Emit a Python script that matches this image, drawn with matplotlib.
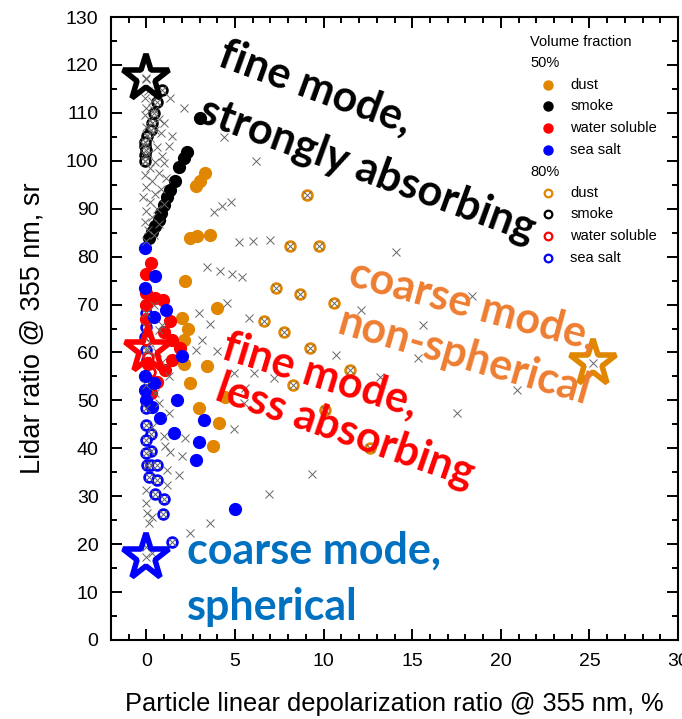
import matplotlib.pyplot as plt
from matplotlib.ticker import MultipleLocator

# lidar ratio vs particle depolarization for aerosol mixtures (355 nm)

# 50 % volume fraction (filled)
dust50_x = [3.33, 3.05, 2.77, 2.48, 2.86, 3.61, 2.20, 3.99, 2.01, 2.33, 2.10, 2.10, 3.42, 2.48, 4.46, 2.95, 4.08, 3.76]
dust50_y = [97.4, 95.7, 94.7, 83.9, 84.2, 84.6, 74.9, 69.2, 67.2, 64.9, 62.6, 57.6, 57.2, 53.7, 50.7, 48.4, 45.2, 40.4]

smoke50_x = [3.05, 2.30, 2.11, 1.82, 1.64, 1.35, 1.17, 0.98, 0.84, 0.70, 0.51, 0.32, 0.13]
smoke50_y = [108.9, 101.9, 100.6, 98.8, 95.7, 93.9, 92.5, 90.8, 89.2, 87.7, 86.3, 85.2, 83.9]

water50_x = [0.23, 0.00, -0.05, 0.51, 0.95, 0.00, 1.35, 0.00, 1.00, 1.45, 1.90, 1.45, 1.05, 0.60, 0.25, 0.10]
water50_y = [78.6, 76.4, 72.4, 71.3, 71.0, 69.8, 66.5, 67.0, 64.2, 62.6, 60.9, 58.5, 56.4, 53.9, 51.5, 57.5]

seasalt50_x = [-0.06, 0.51, -0.06, 1.13, 0.41, 2.01, -0.06, 0.41, -0.06, 0.00, 0.32, 1.73, 0.79, 3.23, 1.54, 2.95, 2.77, 5.02]
seasalt50_y = [81.8, 76.0, 73.4, 68.8, 67.3, 59.2, 55.0, 53.6, 52.2, 50.1, 48.7, 50.1, 46.3, 45.9, 43.1, 41.4, 37.6, 27.3]

# 80 % volume fraction (open)
dust80_x = [9.07, 8.09, 9.73, 7.34, 8.65, 10.57, 6.62, 7.75, 9.22, 11.51, 8.28, 10.06, 12.60]
dust80_y = [92.8, 82.3, 82.3, 73.4, 72.2, 70.4, 66.5, 64.2, 60.9, 56.4, 53.2, 48.0, 40.0]

smoke80_x = [0.89, 0.60, 0.45, 0.32, 0.23, 0.04, -0.06, -0.10, -0.10, -0.06, 0.00]
smoke80_y = [114.8, 112.2, 110.0, 107.9, 106.5, 105.1, 103.0, 101.3, 99.9, 104.0, 102.2]

water80_x = [0.00, 0.10, 0.20]
water80_y = [62.5, 59.0, 56.0]

seasalt80_x = [0.00, 0.00, -0.10, 0.00, 0.05, 0.00, 0.00, 0.28, 0.00, 0.23, 0.00, 0.04, 0.28, 0.60, 0.17, 0.60, 0.51, 0.98, 0.92, 1.45]
seasalt80_y = [68.2, 65.3, 63.3, 60.5, 58.5, 48.4, 44.9, 43.0, 41.8, 39.5, 39.0, 36.5, 36.5, 36.5, 34.0, 33.4, 30.5, 29.4, 26.2, 20.4]

# other mixing states
other_x = [0.0, 0.1, -0.1, 0.3, 0.0, 0.4, -0.1, 0.2, 0.7, 1.0, 0.0, 0.5, 1.45, 0.8, 0.2, -0.2, 1.25, 0.6,
           0.1, 0.9, -0.1, 0.5, 1.0, 0.2, 0.7, -0.1, 1.1, 0.3, 0.0, 0.8, 0.5, -0.2, 0.2, 1.0, 0.6, 0.0,
           0.3, -0.1, 0.7, 0.1, 0.4, 0.0,
           0.41, 0.89, 0.70, 1.26, 0.00, 0.51, 0.70, 1.26, 0.30, 1.00, 0.20, 0.60, 0.90,
           1.35, 2.14, 4.36, 6.19, 3.80, 4.27, 4.80, 5.25, 6.00, 7.00, 3.39, 4.14, 4.84, 5.40,
           4.55, 2.95, 5.77, 3.61, 3.14, 3.99, 2.77, 4.93, 6.06, 7.18, 5.59, 5.49, 4.97, 2.20,
           1.07, 1.35, 2.01, 1.82, 1.17, 1.17, 0.00, 0.00, 0.04, 0.32, 0.13, 0.00, 0.32, 2.48,
           3.61, 6.90, 9.35, 14.10, 18.40, 12.10, 15.60, 10.70, 15.30, 13.20, 20.90, 17.50,
           25.20, 0.00, 0.10, 0.00]
other_y = [117.0, 114.5, 113.0, 112.5, 111.0, 110.5, 109.5, 108.5, 108.7, 107.9, 107.0, 106.5, 105.1, 105.8,
           104.8, 103.5, 103.0, 102.8, 101.5, 101.0, 100.0, 99.8, 99.5, 98.5, 97.5, 97.0, 96.5, 95.8,
           94.5, 94.2, 93.0, 92.5, 91.5, 91.0, 90.0, 89.5, 88.3, 87.2, 86.8, 85.5, 84.5, 83.3,
           69.9, 65.8, 64.7, 55.0, 53.2, 51.5, 49.5, 47.3, 44.5, 42.5, 62.0, 60.0, 58.0,
           113.1, 111.0, 104.9, 99.9, 89.4, 90.5, 91.5, 83.0, 83.2, 83.4, 77.8, 77.0, 76.3, 75.8,
           70.3, 68.3, 67.2, 66.0, 62.6, 60.4, 60.5, 55.7, 55.7, 54.6, 52.5, 49.4, 44.0, 42.2,
           40.4, 39.3, 38.3, 34.4, 35.5, 32.4, 31.3, 28.5, 26.4, 25.7, 24.4, 19.5, 18.1, 22.3,
           24.5, 30.4, 34.7, 80.9, 71.7, 68.9, 65.8, 59.5, 58.8, 54.8, 52.2, 47.3,
           57.9, 117.3, 60.5, 17.3]

# pure components
pure_x = [0.0, 0.1, 0.0, 25.2]
pure_y = [117.3, 60.5, 17.3, 57.9]

c_dust = '#E08600'
c_smoke = 'black'
c_water = '#FF0000'
c_salt = '#0000FF'
pure_colors = [c_smoke, c_water, c_salt, c_dust]

fig = plt.figure(figsize=(6.82, 7.19), dpi=100)
ax = fig.add_axes([111 / 682, 79 / 719, 567 / 682, 623 / 719])

ms_fill = 8.5
ms_open = 7
for xs, ys, c in [(seasalt80_x, seasalt80_y, c_salt), (water80_x, water80_y, c_water),
                  (smoke80_x, smoke80_y, c_smoke), (dust80_x, dust80_y, c_dust)]:
    ax.plot(xs, ys, 'o', ms=ms_open, mfc='white', mec=c, mew=2.0, ls='none', zorder=3)

for xs, ys, c in [(dust50_x, dust50_y, c_dust), (smoke50_x, smoke50_y, c_smoke),
                  (water50_x, water50_y, c_water), (seasalt50_x, seasalt50_y, c_salt)]:
    ax.plot(xs, ys, 'o', ms=ms_fill, color=c, mec=c, ls='none', zorder=4)

# crosses sit on every 80% point as well
cx = other_x + dust80_x + smoke80_x + seasalt80_x
cy = other_y + dust80_y + smoke80_y + seasalt80_y
ax.plot(cx, cy, 'x', ms=5.5, mew=0.7, color='#666666', ls='none', zorder=5)

for px, py, c in zip(pure_x, pure_y, pure_colors):
    ax.plot(px, py, '*', ms=35, mfc='none', mec=c, mew=4.0, zorder=6)

ax.set_xlim(-2, 30)
ax.set_ylim(0, 130)
ax.xaxis.set_major_locator(MultipleLocator(5))
ax.xaxis.set_minor_locator(MultipleLocator(1))
ax.yaxis.set_major_locator(MultipleLocator(10))
ax.yaxis.set_minor_locator(MultipleLocator(5))
ax.tick_params(which='both', direction='in', top=True, right=True, width=1.4,
               labelsize=14, pad=9)
ax.tick_params(which='major', length=8)
ax.tick_params(which='minor', length=4.5)
for s in ax.spines.values():
    s.set_linewidth(1.5)

lab_font = 'Liberation Sans'
for t in ax.get_xticklabels() + ax.get_yticklabels():
    t.set_fontfamily(lab_font)
ax.set_xlabel('Particle linear depolarization ratio @ 355 nm, %', fontsize=18.3,
              family=lab_font, labelpad=16)
ax.set_ylabel('Lidar ratio @ 355 nm, sr', fontsize=19.5, family=lab_font, labelpad=14)

# legend block
tr = ax.transAxes
lx_head, lx_mark, lx_text = 0.739, 0.771, 0.810
ax.text(lx_head, 0.960, 'Volume fraction', transform=tr, fontsize=10.5, family=lab_font, va='center')
ax.text(lx_head, 0.926, '50%', transform=tr, fontsize=10.5, family=lab_font, va='center')
ax.text(lx_head, 0.751, '80%', transform=tr, fontsize=10.5, family=lab_font, va='center')
names = ['dust', 'smoke', 'water soluble', 'sea salt']
cols = [c_dust, c_smoke, c_water, c_salt]
rows50 = [0.891, 0.857, 0.822, 0.787]
rows80 = [0.718, 0.684, 0.648, 0.613]
for n, c, r5, r8 in zip(names, cols, rows50, rows80):
    ax.plot(lx_mark, r5, 'o', ms=6.5, color=c, transform=tr, clip_on=False, zorder=7)
    ax.plot(lx_mark, r8, 'o', ms=5.5, mfc='white', mec=c, mew=1.6, transform=tr, clip_on=False, zorder=7)
    ax.text(lx_text, r5, n, transform=tr, fontsize=10.5, family=lab_font, va='center')
    ax.text(lx_text, r8, n, transform=tr, fontsize=10.5, family=lab_font, va='center')

# region annotations
big = dict(fontsize=31, family='Lato', weight='bold', ha='center', va='center',
           rotation_mode='anchor', zorder=8)
ax.text(9.54, 115.2, 'fine mode,', color='black', rotation=-20, **big)
ax.text(12.47, 98.1, 'strongly absorbing', color='black', rotation=-20, **big)
ax.text(18.4, 69.9, 'coarse mode,', color='#ED7D31', rotation=-15, **big)
ax.text(17.9, 59.1, 'non-spherical', color='#ED7D31', rotation=-16, **big)
ax.text(9.8, 55.3, 'fine mode,', color='#FF0000', rotation=-17, **big)
ax.text(11.2, 43.6, 'less absorbing', color='#FF0000', rotation=-19, **big)
ax.text(2.31, 15.9, 'coarse mode,', color='#0070C0', fontsize=31, family='Lato',
        weight='bold', ha='left', va='baseline', zorder=8)
ax.text(2.31, 4.2, 'spherical', color='#0070C0', fontsize=31, family='Lato',
        weight='bold', ha='left', va='baseline', zorder=8)

fig.savefig('out.png', dpi=100)
